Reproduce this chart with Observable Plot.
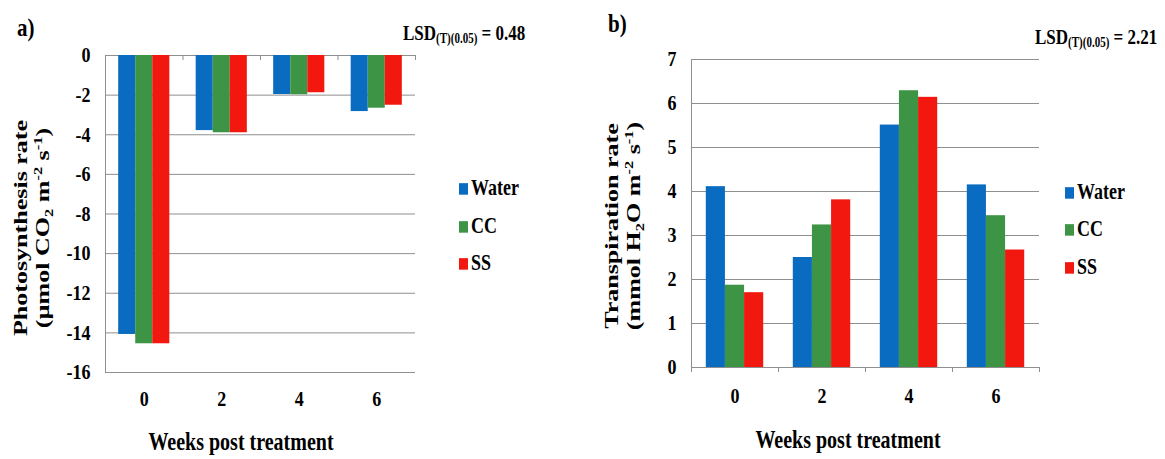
<!DOCTYPE html>
<html>
<head>
<meta charset="utf-8">
<script src="https://cdn.jsdelivr.net/npm/d3@7"></script>
<script src="https://cdn.jsdelivr.net/npm/@observablehq/plot@0.6"></script>
<style>
  html, body { margin: 0; padding: 0; background: #fff; }
  #root { position: relative; width: 1165px; height: 459px; overflow: hidden; background: #fff;
          font-family: "Liberation Serif", "DejaVu Serif", serif; font-weight: bold; color: #000; }
  #root svg, #root svg text { font-family: "Liberation Serif", "DejaVu Serif", serif !important; }
  .panel { position: absolute; top: 0; }
  .ylab { position: absolute; white-space: nowrap; text-align: center; line-height: 22px; font-size: 19px;
          transform: translate(-50%, -50%) rotate(-90deg) scaleX(1.37); }
  .ylab .sm { font-size: 12px; line-height: 0; }
  .xlab { position: absolute; white-space: nowrap; font-size: 20px; line-height: 20px;
          transform: translate(-50%, -50%) scaleY(1.28); }
  .leg { position: absolute; white-space: nowrap; font-size: 18px; line-height: 18px;
         transform: translateY(-50%) scaleY(1.28); transform-origin: 0 50%; }
  .leg .sw { display: inline-block; width: 9px; height: 9px; margin-right: 3px; vertical-align: 0px; }
  .lsd { position: absolute; white-space: nowrap; font-size: 17px; line-height: 17px;
         transform: scaleY(1.25); transform-origin: 0 0; }
  .lsd .sub { font-size: 11px; position: relative; top: 3px; }
  .tag { position: absolute; font-size: 21px; line-height: 21px; transform: scaleY(1.2); transform-origin: 0 0; }
</style>
</head>
<body>
<div id="root"></div>
<script>
// ---------- data ----------
const weeks = [0, 2, 4, 6];
const treatments = ["Water", "CC", "SS"];
const colors = ["#0a6cc1", "#3d9444", "#f2170f"];

// a) Photosynthesis rate (µmol CO2 m-2 s-1)
const photoWater = [-14.08, -3.79, -1.97, -2.83];
const photoCC    = [-14.55, -3.90, -1.98, -2.66];
const photoSS    = [-14.55, -3.90, -1.88, -2.51];
const photoTicks = [-16, -14, -12, -10, -8, -6, -4, -2, 0];

// b) Transpiration rate (mmol H2O m-2 s-1)
const transWater = [4.11, 2.50, 5.51, 4.15];
const transCC    = [1.87, 3.24, 6.29, 3.45];
const transSS    = [1.70, 3.81, 6.14, 2.67];
const transTicks = [0, 1, 2, 3, 4, 5, 6, 7];

const lsdA = "0.48";
const lsdB = "2.21";

// ---------- helpers ----------
const barW = 0.44; // bar width in "week" units (style)
function table(series) {
  return treatments.flatMap((t, i) => weeks.map((w, j) => ({week: w, treatment: t, i, value: series[i][j]})));
}
const bounds = weeks.map(w => w - 1).concat([weeks[weeks.length - 1] + 1]);
const gridColor = "#8f8f8f";
const serif = "'Liberation Serif', 'DejaVu Serif', serif";

function panel({series, ticks, width, height, margins, tickPadX}) {
  const data = table(series);
  const svg = Plot.plot({
    width, height,
    marginLeft: margins[0], marginRight: margins[1], marginTop: margins[2], marginBottom: margins[3],
    style: {fontFamily: serif, fontSize: "18px", fontWeight: "bold",
            color: "#000", background: "transparent", overflow: "visible"},
    x: {domain: [bounds[0], bounds[bounds.length - 1]], ticks: weeks, tickSize: 0, tickPadding: tickPadX,
        tickFormat: d => String(d), label: null},
    y: {domain: [ticks[0], ticks[ticks.length - 1]], ticks, tickSize: 0, tickPadding: 15,
        tickFormat: d => String(d), label: null},
    color: {domain: treatments, range: colors},
    marks: [
      Plot.ruleY(ticks, {stroke: gridColor, strokeWidth: 1}),
      Plot.ruleX([bounds[0]], {stroke: gridColor, strokeWidth: 1}),
      Plot.rect(data, {
        x1: d => d.week - 1.5 * barW + d.i * barW,
        x2: d => d.week - 1.5 * barW + (d.i + 1) * barW,
        y1: 0, y2: "value", fill: "treatment"
      }),
      Plot.ruleX(bounds, {y1: 0, y2: 0, insetTop: 0, insetBottom: -5, stroke: gridColor})
    ]
  });
  // the reference's lettering is vertically stretched: mimic on tick labels
  svg.querySelectorAll("text").forEach(t => {
    const tr = t.getAttribute("transform");
    if (tr && tr.startsWith("translate")) t.setAttribute("transform", tr + " scale(1,1.18)");
  });
  return svg;
}

// ---------- layout ----------
const root = document.getElementById("root");
function place(el, left) {
  const d = document.createElement("div");
  d.className = "panel"; d.style.left = left + "px";
  d.appendChild(el); root.appendChild(d);
}
place(panel({series: [photoWater, photoCC, photoSS], ticks: photoTicks, width: 582, height: 459,
             margins: [105, 167, 55, 87], tickPadX: 18}), 0);
place(panel({series: [transWater, transCC, transSS], ticks: transTicks, width: 583, height: 459,
             margins: [109, 126, 59, 92], tickPadX: 20}), 582);

function addHTML(cls, html, left, top) {
  const d = document.createElement("div");
  d.className = cls; d.innerHTML = html;
  d.style.left = left + "px"; d.style.top = top + "px";
  root.appendChild(d);
  return d;
}
// panel tags
addHTML("tag", "a)", 17, 16);
addHTML("tag", "b)", 608, 12);
// LSD notes
addHTML("lsd", `LSD<span class="sub">(T)(0.05)</span> = ${lsdA}`, 403, 22);
addHTML("lsd", `LSD<span class="sub">(T)(0.05)</span> = ${lsdB}`, 1035, 26);
// y titles
addHTML("ylab", `Photosynthesis rate<br>(µmol CO<span class="sm" style="vertical-align:-4px">2</span> m<span class="sm" style="vertical-align:7px">-2</span> s<span class="sm" style="vertical-align:7px">-1</span>)`, 32, 228);
addHTML("ylab", `Transpiration rate<br>(mmol H<span class="sm" style="vertical-align:-4px">2</span>O m<span class="sm" style="vertical-align:7px">-2</span> s<span class="sm" style="vertical-align:7px">-1</span>)`, 623, 226);
// x titles
addHTML("xlab", "Weeks post treatment", 241, 441);
addHTML("xlab", "Weeks post treatment", 848, 439);
// legends
const legA = [186.7, 225, 261.7], legB = [190.7, 228.3, 265.7];
treatments.forEach((t, i) => {
  addHTML("leg", `<span class="sw" style="background:${colors[i]}"></span>${t}`, 459, legA[i]);
  addHTML("leg", `<span class="sw" style="background:${colors[i]}"></span>${t}`, 1065, legB[i]);
});
</script>
</body>
</html>
